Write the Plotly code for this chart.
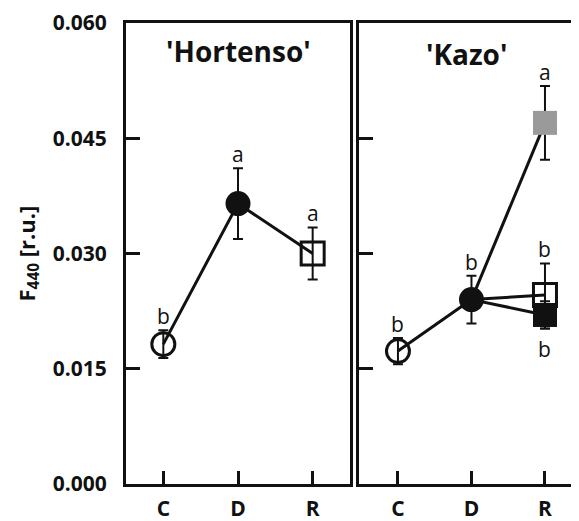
import plotly.graph_objects as go

categories = ["C", "D", "R"]
xpos = [0, 1, 2]

# 'Hortenso'
hort_mean = [0.0182, 0.0365, 0.0300]
hort_err = [0.0018, 0.0046, 0.0034]
hort_letters = ["b", "a", "a"]

# 'Kazo'
kazo_c_mean, kazo_c_err = 0.0173, 0.0017
kazo_d_mean, kazo_d_err = 0.0240, 0.0031
kazo_r_means = [0.0470, 0.0246, 0.0220]   # gray, open, black squares
kazo_r_errs = [0.0048, 0.0041, 0.0018]
kazo_letters_cd = ["b", "b"]
kazo_letters_r = ["a", "b", "b"]

yticks = [0.0, 0.015, 0.030, 0.045, 0.060]
ytick_text = ["0.000", "0.015", "0.030", "0.045", "0.060"]

FONT = "Open Sans"
BLACK = "#111111"
GRAY = "#9a9a9a"

fig = go.Figure()

err_style = dict(type="data", color=BLACK, thickness=2, width=5)

# ---- Hortenso ----
fig.add_trace(go.Scatter(x=xpos, y=hort_mean, mode="lines",
                         line=dict(color=BLACK, width=3), xaxis="x", yaxis="y",
                         showlegend=False, hoverinfo="skip"))
hort_symbols = ["circle-open", "circle", "square-open"]
hort_sizes = [23, 25, 23]
for i in range(3):
    fig.add_trace(go.Scatter(
        x=[xpos[i]], y=[hort_mean[i]], mode="markers",
        marker=dict(symbol=hort_symbols[i], size=hort_sizes[i], color=BLACK,
                    line=dict(color=BLACK, width=3 if "open" in hort_symbols[i] else 0)),
        error_y=dict(array=[hort_err[i]], **err_style),
        xaxis="x", yaxis="y", showlegend=False))

# ---- Kazo ----
fig.add_trace(go.Scatter(x=[0, 1], y=[kazo_c_mean, kazo_d_mean], mode="lines",
                         line=dict(color=BLACK, width=3), xaxis="x2", yaxis="y2",
                         showlegend=False, hoverinfo="skip"))
for m in kazo_r_means:
    fig.add_trace(go.Scatter(x=[1, 2], y=[kazo_d_mean, m], mode="lines",
                             line=dict(color=BLACK, width=3), xaxis="x2", yaxis="y2",
                             showlegend=False, hoverinfo="skip"))

fig.add_trace(go.Scatter(
    x=[0], y=[kazo_c_mean], mode="markers",
    marker=dict(symbol="circle-open", size=23, color=BLACK, line=dict(color=BLACK, width=3)),
    error_y=dict(array=[kazo_c_err], **err_style),
    xaxis="x2", yaxis="y2", showlegend=False))
fig.add_trace(go.Scatter(
    x=[1], y=[kazo_d_mean], mode="markers",
    marker=dict(symbol="circle", size=25, color=BLACK, line=dict(width=0)),
    error_y=dict(array=[kazo_d_err], **err_style),
    xaxis="x2", yaxis="y2", showlegend=False))

r_symbols = ["square", "square-open", "square"]
r_colors = [GRAY, BLACK, BLACK]
r_sizes = [24, 23, 24]
for i in range(3):
    fig.add_trace(go.Scatter(
        x=[2], y=[kazo_r_means[i]], mode="markers",
        marker=dict(symbol=r_symbols[i], size=r_sizes[i], color=r_colors[i],
                    line=dict(color=r_colors[i], width=3 if "open" in r_symbols[i] else 0)),
        error_y=dict(array=[kazo_r_errs[i]], **err_style),
        xaxis="x2", yaxis="y2", showlegend=False))

# ---- letters ----
ann = []
letter_font = dict(family=FONT, size=21, color=BLACK)
for i in range(3):
    ann.append(dict(x=xpos[i], y=hort_mean[i] + hort_err[i], xref="x", yref="y",
                    text=hort_letters[i], showarrow=False, font=letter_font,
                    yanchor="middle", yshift=14))
ann.append(dict(x=0, y=kazo_c_mean + kazo_c_err, xref="x2", yref="y2", text=kazo_letters_cd[0],
                showarrow=False, font=letter_font, yanchor="middle", yshift=14))
ann.append(dict(x=1, y=kazo_d_mean + kazo_d_err, xref="x2", yref="y2", text=kazo_letters_cd[1],
                showarrow=False, font=letter_font, yanchor="middle", yshift=14))
ann.append(dict(x=2, y=kazo_r_means[0] + kazo_r_errs[0], xref="x2", yref="y2", text=kazo_letters_r[0],
                showarrow=False, font=letter_font, yanchor="middle", yshift=14))
ann.append(dict(x=2, y=kazo_r_means[1] + kazo_r_errs[1], xref="x2", yref="y2", text=kazo_letters_r[1],
                showarrow=False, font=letter_font, yanchor="middle", yshift=14))
ann.append(dict(x=2, y=kazo_r_means[2] - kazo_r_errs[2], xref="x2", yref="y2", text=kazo_letters_r[2],
                showarrow=False, font=letter_font, yanchor="middle", yshift=-20))

# panel titles
title_font = dict(family=FONT, size=28, color=BLACK, weight="bold")
ann.append(dict(x=1, y=0.0564, xref="x", yref="y", text="'Hortenso'", showarrow=False,
                font=title_font, yanchor="middle"))
ann.append(dict(x=1, y=0.0560, xref="x2", yref="y2", text="'Kazo'", showarrow=False,
                font=title_font, yanchor="middle", xshift=-5))

# page body margin offset compensation
OFF = 6
W, H = 579 - OFF, 521 - OFF
L, R, T, B = 124 - OFF, 0, 16 - OFF, 39
pw = W - L - R
ann.append(dict(x=(25 - 124) / pw, y=0.5, xref="paper", yref="paper",
                text="F<sub>440</sub> [r.u.]", textangle=-90, showarrow=False,
                font=dict(family=FONT, size=22, color=BLACK, weight="bold"),
                xanchor="center", yanchor="middle"))

axis_common = dict(showline=True, linecolor=BLACK, linewidth=3, showgrid=False,
                   zeroline=False, ticks="inside", tickcolor=BLACK, tickwidth=3)

d1_end = (348 - 124) / pw
d2_start = (357 - 124) / pw
tickfont = dict(family=FONT, size=21, color=BLACK, weight="bold")

fig.update_layout(
    width=W, height=H,
    margin=dict(l=L, r=R, t=T, b=B),
    paper_bgcolor="white", plot_bgcolor="white",
    font=dict(family=FONT, color=BLACK),
    xaxis=dict(domain=[0, d1_end], range=[-0.5, 2.5], tickvals=xpos, ticktext=categories,
               mirror=True, ticklen=13, ticklabelstandoff=4, tickfont=tickfont,
               ticklabeloverflow="allow", **axis_common),
    yaxis=dict(domain=[0, 1], range=[0, 0.060], tickvals=yticks, ticktext=ytick_text,
               mirror=True, ticklen=14, ticklabelstandoff=12, tickfont=tickfont,
               ticklabeloverflow="allow", **axis_common),
    xaxis2=dict(domain=[d2_start, 1], range=[-0.53, 2.49], tickvals=xpos, ticktext=categories,
                mirror=True, ticklen=13, ticklabelstandoff=4, anchor="y2",
                tickfont=tickfont, ticklabeloverflow="allow", **axis_common),
    yaxis2=dict(domain=[0, 1], range=[0, 0.060], tickvals=yticks, showticklabels=False,
                mirror=False, ticklen=14, anchor="x2", **axis_common),
    annotations=ann,
)

fig.write_html("out.html")
